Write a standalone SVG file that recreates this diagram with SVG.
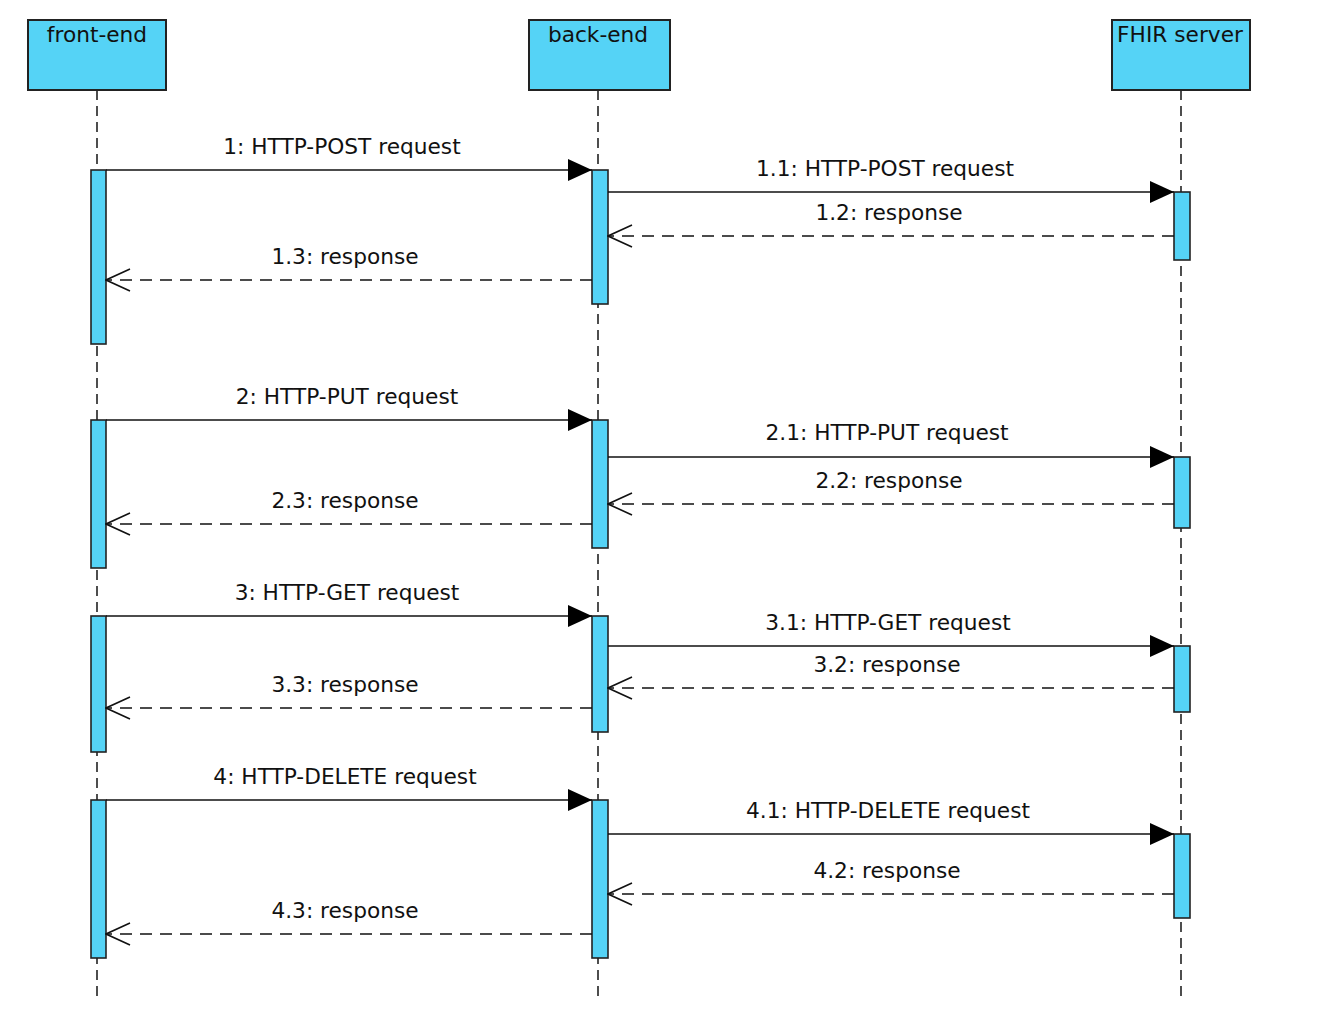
<svg xmlns="http://www.w3.org/2000/svg" width="1326" height="1036" viewBox="0 0 1326 1036">
<defs>
<style>
.box{fill:#55d3f6;stroke:#222;stroke-width:2}
.act{fill:#55d3f6;stroke:#222;stroke-width:1.6}
.life{stroke:#222;stroke-width:1.6;stroke-dasharray:10 6;fill:none}
.msg{stroke:#111;stroke-width:1.6;fill:none}
.ret{stroke:#111;stroke-width:1.6;fill:none;stroke-dasharray:12 8}
text{font-family:"DejaVu Sans","Liberation Sans",sans-serif;font-size:21.7px;fill:#111;text-anchor:middle}
</style>
<marker id="fill" viewBox="0 0 24 22" refX="24" refY="11" markerWidth="24" markerHeight="22" markerUnits="userSpaceOnUse" orient="auto">
<path d="M0,0 L24,11 L0,22 Z" fill="#000"/>
</marker>
<marker id="open" viewBox="0 0 26 24" refX="25" refY="12" markerWidth="26" markerHeight="24" markerUnits="userSpaceOnUse" orient="auto">
<path d="M1,1 L25,12 L1,23" fill="none" stroke="#111" stroke-width="1.6"/>
</marker>
</defs>

<g id="front-end">
<line class="life" x1="97" y1="90" x2="97" y2="998"/>
<rect class="box" x="28" y="20" width="138" height="70"/>
<text x="97" y="42">front-end</text>
<rect class="act" x="91" y="170" width="15" height="174"/>
<rect class="act" x="91" y="420" width="15" height="148"/>
<rect class="act" x="91" y="616" width="15" height="136"/>
<rect class="act" x="91" y="800" width="15" height="158"/>
</g>

<g id="back-end">
<line class="life" x1="598" y1="90" x2="598" y2="998"/>
<rect class="box" x="529" y="20" width="141" height="70"/>
<text x="598" y="42">back-end</text>
<rect class="act" x="592" y="170" width="16" height="134"/>
<rect class="act" x="592" y="420" width="16" height="128"/>
<rect class="act" x="592" y="616" width="16" height="116"/>
<rect class="act" x="592" y="800" width="16" height="158"/>
</g>

<g id="fhir-server">
<line class="life" x1="1181" y1="90" x2="1181" y2="998"/>
<rect class="box" x="1112" y="20" width="138" height="70"/>
<text x="1180" y="42">FHIR server</text>
<rect class="act" x="1174" y="192" width="16" height="68"/>
<rect class="act" x="1174" y="457" width="16" height="71"/>
<rect class="act" x="1174" y="646" width="16" height="66"/>
<rect class="act" x="1174" y="834" width="16" height="84"/>
</g>

<g id="connectors">
<line class="msg" x1="106" y1="170" x2="592" y2="170" marker-end="url(#fill)"/>
<line class="msg" x1="608" y1="192" x2="1174" y2="192" marker-end="url(#fill)"/>
<line class="ret" x1="1174" y1="236" x2="608" y2="236" marker-end="url(#open)"/>
<line class="ret" x1="592" y1="280" x2="106" y2="280" marker-end="url(#open)"/>

<line class="msg" x1="106" y1="420" x2="592" y2="420" marker-end="url(#fill)"/>
<line class="msg" x1="608" y1="457" x2="1174" y2="457" marker-end="url(#fill)"/>
<line class="ret" x1="1174" y1="504" x2="608" y2="504" marker-end="url(#open)"/>
<line class="ret" x1="592" y1="524" x2="106" y2="524" marker-end="url(#open)"/>

<line class="msg" x1="106" y1="616" x2="592" y2="616" marker-end="url(#fill)"/>
<line class="msg" x1="608" y1="646" x2="1174" y2="646" marker-end="url(#fill)"/>
<line class="ret" x1="1174" y1="688" x2="608" y2="688" marker-end="url(#open)"/>
<line class="ret" x1="592" y1="708" x2="106" y2="708" marker-end="url(#open)"/>

<line class="msg" x1="106" y1="800" x2="592" y2="800" marker-end="url(#fill)"/>
<line class="msg" x1="608" y1="834" x2="1174" y2="834" marker-end="url(#fill)"/>
<line class="ret" x1="1174" y1="894" x2="608" y2="894" marker-end="url(#open)"/>
<line class="ret" x1="592" y1="934" x2="106" y2="934" marker-end="url(#open)"/>

<text x="342" y="154">1: HTTP-POST request</text>
<text x="885" y="176">1.1: HTTP-POST request</text>
<text x="889" y="220">1.2: response</text>
<text x="345" y="264">1.3: response</text>

<text x="347" y="404">2: HTTP-PUT request</text>
<text x="887" y="440">2.1: HTTP-PUT request</text>
<text x="889" y="488">2.2: response</text>
<text x="345" y="508">2.3: response</text>

<text x="347" y="600">3: HTTP-GET request</text>
<text x="888" y="630">3.1: HTTP-GET request</text>
<text x="887" y="672">3.2: response</text>
<text x="345" y="692">3.3: response</text>

<text x="345" y="784">4: HTTP-DELETE request</text>
<text x="888" y="818">4.1: HTTP-DELETE request</text>
<text x="887" y="878">4.2: response</text>
<text x="345" y="918">4.3: response</text>
</g>
</svg>
